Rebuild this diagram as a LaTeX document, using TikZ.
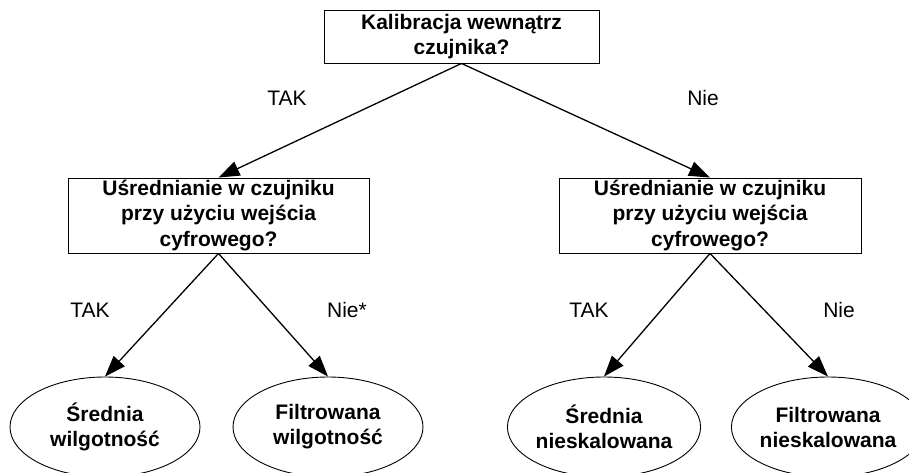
\documentclass[tikz,border=0pt]{standalone}
\usepackage{fontspec}
\setmainfont{Liberation Sans}
\usetikzlibrary{arrows.meta,shapes.geometric}
\begin{document}
\begin{tikzpicture}[x=1pt,y=-1pt,
  qbox/.style={draw=black,line width=0.9pt,rectangle,inner sep=0pt,align=center,
    font=\fontsize{21}{25.5}\selectfont\bfseries},
  leaf/.style={draw=black,line width=0.9pt,ellipse,inner sep=0pt,align=center,
    minimum width=190pt,minimum height=100pt,
    font=\fontsize{21}{25}\selectfont\bfseries},
  lbl/.style={font=\fontsize{21}{25}\selectfont,inner sep=0pt},
  conn/.style={line width=1.3pt,-{Triangle[length=21pt,width=15pt]}}]
\useasboundingbox (0,0) rectangle (909,473);
\node[qbox,minimum width=275pt,minimum height=53pt] (top) at (461.5,36.5)
  {Kalibracja wewnątrz\\czujnika?};
\node[qbox,minimum width=301pt,minimum height=75pt] (l) at (218.5,215.5)
  {Uśrednianie w czujniku\\przy użyciu wejścia\\cyfrowego?};
\node[qbox,minimum width=302pt,minimum height=75pt] (r) at (710,215.5)
  {Uśrednianie w czujniku\\przy użyciu wejścia\\cyfrowego?};
\node[leaf] (e1) at (105,427) {Średnia\\wilgotność};
\node[leaf] (e2) at (328,427) {Filtrowana\\wilgotność};
\node[leaf] (e3) at (604,427) {Średnia\\nieskalowana};
\node[leaf] (e4) at (828,427) {Filtrowana\\nieskalowana};
\draw[conn] (top.south) -- (l.north);
\draw[conn] (top.south) -- (r.north);
\draw[conn] (l.south) -- (e1.north);
\draw[conn] (l.south) -- (e2.north);
\draw[conn] (r.south) -- (e3.north);
\draw[conn] (r.south) -- (e4.north);
\node[lbl] (t1) at (287,98) {TAK};
\node[lbl] (n1) at (703,98) {Nie};
\node[lbl] (t2) at (90,310) {TAK};
\node[lbl] (n2) at (347,310) {Nie*};
\node[lbl] (t3) at (589,310) {TAK};
\node[lbl] (n3) at (839,310) {Nie};
\end{tikzpicture}
\end{document}
